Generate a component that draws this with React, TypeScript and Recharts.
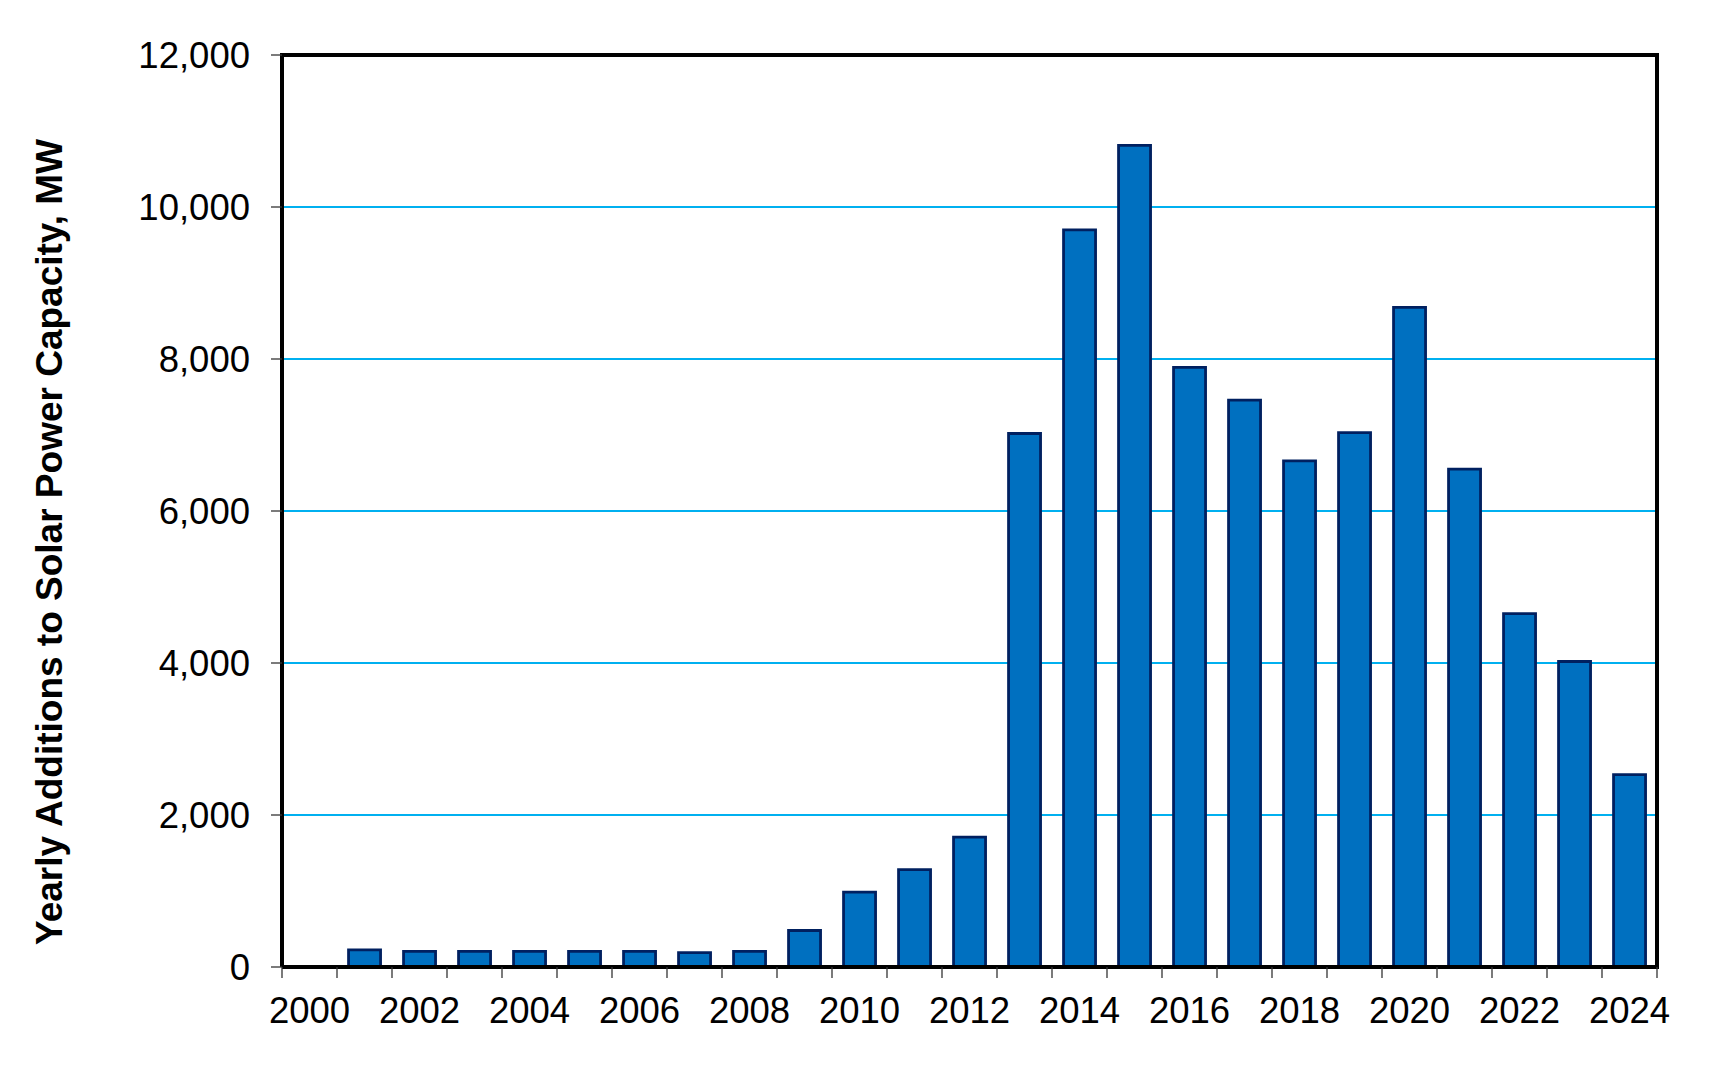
import React from 'react';
import { BarChart, Bar, XAxis, YAxis, CartesianGrid, ReferenceLine } from 'recharts';

const YEARS = ['2000','2001','2002','2003','2004','2005','2006','2007','2008','2009','2010','2011','2012','2013','2014','2015','2016','2017','2018','2019','2020','2021','2022','2023','2024'];
const ADDITIONS_MW = [0, 225, 205, 205, 205, 205, 205, 190, 205, 480, 985, 1280, 1710, 7020, 9700, 10810, 7890, 7460, 6660, 7030, 8680, 6550, 4650, 4020, 2530];
const Y_TICKS = [0, 2000, 4000, 6000, 8000, 10000, 12000];
const LABEL_EVERY = 2;
const Y_TITLE = 'Yearly Additions to Solar Power Capacity, MW';

const FONT = '"Liberation Sans", Arial, Helvetica, sans-serif';

const data = YEARS.map((year, i) => ({ year, pos: i + 0.5, mw: ADDITIONS_MW[i] }));

const boundaryTicks = YEARS.map((_, i) => i).concat([YEARS.length]);
const labelTicks = YEARS.map((_, i) => i).filter((i) => i % LABEL_EVERY === 0).map((i) => i + 0.5);
const X_TICKS = [...boundaryTicks, ...labelTicks].sort((a, b) => a - b);

const XTick = (props: any) => {
  const { x, y, payload } = props;
  const v = payload.value as number;
  if (Number.isInteger(v)) {
    return <line x1={x} x2={x} y1={y} y2={y + 11} stroke="#333" strokeWidth={1.3} />;
  }
  const year = YEARS[Math.floor(v)];
  return (
    <text x={x} y={y + 30} dy="0.71em" textAnchor="middle" fill="#000" fontSize={36.5} fontFamily={FONT}>
      {year}
    </text>
  );
};

const YTitle = () => (
  <text
    x={54}
    y={534}
    transform="rotate(-90, 54, 534)"
    textAnchor="middle"
    fill="#000"
    fontSize={37}
    fontWeight="bold"
    fontFamily={FONT}
  >
    {Y_TITLE}
  </text>
);

export default function App() {
  return (
    <div style={{ width: 1713, height: 1076, background: '#fff' }}>
      <BarChart
        width={1713}
        height={1076}
        data={data}
        margin={{ top: 47, right: 64, left: 0, bottom: 57 }}
        barCategoryGap="21%"
      >
        <CartesianGrid vertical={false} stroke="#00B0F0" strokeWidth={2} xAxisId="num" />
        <XAxis xAxisId="cat" dataKey="year" hide height={0} />
        <XAxis
          xAxisId="num"
          type="number"
          dataKey="pos"
          domain={[0, YEARS.length]}
          allowDataOverflow
          ticks={X_TICKS}
          interval={0}
          tickLine={false}
          tickSize={0}
          tickMargin={0}
          tick={<XTick />}
          axisLine={{ stroke: '#000', strokeWidth: 4 }}
          height={60}
        />
        <YAxis
          domain={[0, 12000]}
          ticks={Y_TICKS}
          interval={0}
          width={274}
          tickSize={11}
          tickMargin={21}
          tickLine={{ stroke: '#333', strokeWidth: 1.3 }}
          axisLine={{ stroke: '#000', strokeWidth: 4 }}
          tick={{ fill: '#000', fontSize: 36.5, fontFamily: FONT }}
          tickFormatter={(v: number) => v.toLocaleString('en-US')}
          label={<YTitle />}
        />
        <ReferenceLine y={12000} xAxisId="num" stroke="#000" strokeWidth={4} strokeLinecap="square" />
        <ReferenceLine x={YEARS.length} xAxisId="num" stroke="#000" strokeWidth={4} strokeLinecap="square" />
        <Bar
          dataKey="mw"
          xAxisId="cat"
          fill="#0070C0"
          stroke="#002060"
          strokeWidth={2.8}
          isAnimationActive={false}
        />
      </BarChart>
    </div>
  );
}
